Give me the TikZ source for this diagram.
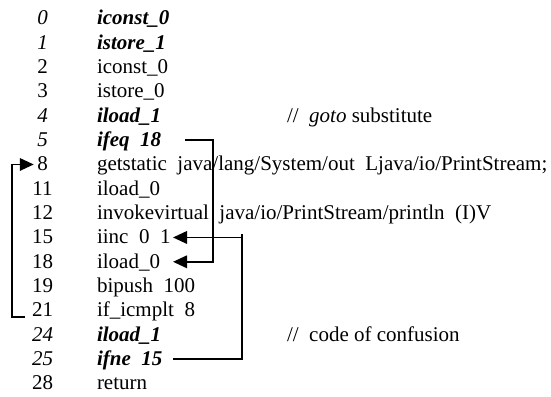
\documentclass[tikz,border=0pt]{standalone}
\usepackage{fontspec}
\setmainfont{Liberation Serif}
\usetikzlibrary{arrows.meta}
\begin{document}
\begin{tikzpicture}[x=1pt,y=1pt,
  every node/.style={inner sep=0pt, outer sep=0pt,
    font=\fontsize{21}{24}\selectfont, text height=15pt, text depth=2pt},
  num/.style={anchor=base},
  numit/.style={anchor=base, font=\fontsize{21}{24}\selectfont\itshape},
  ins/.style={anchor=base west},
  insbi/.style={anchor=base west, font=\fontsize{21}{24}\selectfont\bfseries\itshape},
  wire/.style={line width=1.9pt, line join=miter},
  flow/.style={wire, -{Triangle[length=14pt,width=12.5pt]}}]
\fill[white] (0,0) rectangle (551,396);
\useasboundingbox (0,0) rectangle (551,396);

% offsets (left column) and instructions (right column)
\node[numit] (n0)  at (42.5,371.00) {0};
\node[insbi] (c0)  at (97,371.00)   {iconst\_0};
\node[numit] (n1)  at (42.5,346.67) {1};
\node[insbi] (c1)  at (97,346.67)   {istore\_1};
\node[num]   (n2)  at (42.5,322.34) {2};
\node[ins]   (c2)  at (97,322.34)   {iconst\_0};
\node[num]   (n3)  at (42.5,298.01) {3};
\node[ins]   (c3)  at (97,298.01)   {istore\_0};
\node[numit] (n4)  at (42.5,273.68) {4};
\node[insbi] (c4)  at (97,273.68)   {iload\_1};
\node[numit] (n5)  at (42.5,249.35) {5};
\node[insbi] (c5)  at (97,249.35)   {ifeq~~18};
\node[num]   (n6)  at (42.5,225.02) {8};
\node[ins]   (c6)  at (97,225.02)   {getstatic~~java/lang/System/out~~Ljava/io/PrintStream;};
\node[num]   (n7)  at (42.5,200.69) {11};
\node[ins]   (c7)  at (97,200.69)   {iload\_0};
\node[num]   (n8)  at (42.5,176.36) {12};
\node[ins]   (c8)  at (97,176.36)   {invokevirtual~~java/io/PrintStream/println~~(I)V};
\node[num]   (n9)  at (42.5,152.03) {15};
\node[ins]   (c9)  at (97,152.03)   {iinc~~0~~1};
\node[num]   (n10) at (42.5,127.70) {18};
\node[ins]   (c10) at (97,127.70)   {iload\_0};
\node[num]   (n11) at (42.5,103.37) {19};
\node[ins]   (c11) at (97,103.37)   {bipush~~100};
\node[num]   (n12) at (42.5,79.04)  {21};
\node[ins]   (c12) at (97,79.04)    {if\_icmplt~~8};
\node[numit] (n13) at (42.5,54.71)  {24};
\node[insbi] (c13) at (97,54.71)    {iload\_1};
\node[numit] (n14) at (42.5,30.38)  {25};
\node[insbi] (c14) at (97,30.38)    {ifne~~15};
\node[num]   (n15) at (42.5,6.05)   {28};
\node[ins]   (c15) at (97,6.05)     {return};

% comments
\node[ins] (m4)  at (287,273.68) {//~~\textit{goto} substitute};
\node[ins] (m13) at (287,54.71)  {//~~code of confusion};

% columns used by the jump lines
\coordinate (xa) at (185,0);
\coordinate (xb) at (213,0);
\coordinate (xt) at (173,0);
\coordinate (xc) at (242,0);
\coordinate (xl) at (12,0);
\coordinate (xe) at (25,0);

% ifeq 18 -> 18
\draw[flow] (c5.east -| xa) -| (xb |- c10.east) -- (c10.east -| xt);
% ifne 15 -> 15
\draw[wire] (c14.east -| xt) -| ([yshift=3pt]xc |- c9.east);
\draw[flow] (xc |- c9.east) -- (c9.east -| xt);
% if_icmplt 8 -> 8
\draw[flow] (xe |- n12.base) -| (xl |- n6.east) -- ([xshift=-3.5pt]n6.west);
\end{tikzpicture}
\end{document}
